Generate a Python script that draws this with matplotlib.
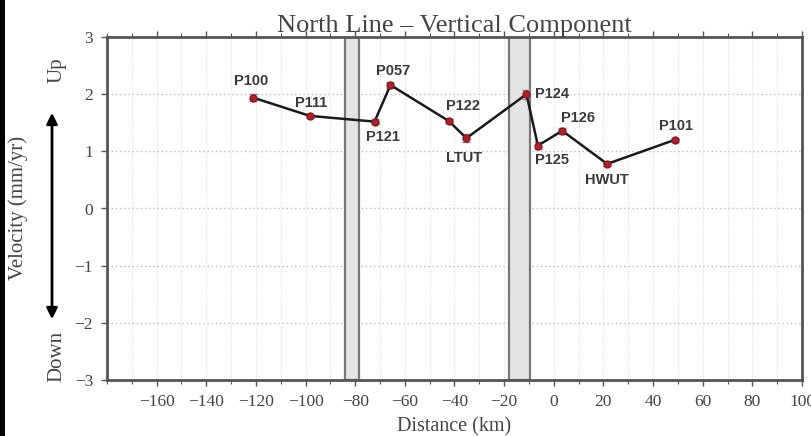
import matplotlib
matplotlib.use("Agg")
import matplotlib.pyplot as plt
from matplotlib.patches import Rectangle, FancyArrowPatch

# Station positions along the profile and vertical velocities
stations = ["P100", "P111", "P121", "P057", "P122", "LTUT", "P124",
            "P125", "P126", "HWUT", "P101"]
distance_km = [-121.2, -98.3, -72.2, -65.8, -42.3, -35.2, -11.0,
               -6.4, 3.4, 21.5, 48.7]
velocity = [1.94, 1.62, 1.52, 2.16, 1.53, 1.23, 2.00, 1.10, 1.36, 0.78, 1.20]
velocity_err = [0.06, 0.04, 0.04, 0.05, 0.04, 0.07, 0.08, 0.06, 0.05, 0.04, 0.04]

# Fault zones shaded along the profile
zones = [(-84.3, -78.3), (-17.9, -9.4)]

x_ticks = [-160, -140, -120, -100, -80, -60, -40, -20, 0, 20, 40, 60, 80, 100]
y_ticks = [-3, -2, -1, 0, 1, 2, 3]

# Label placement relative to each station (offset in points)
label_offsets = {
    "P100": (-1, 12), "P111": (1, 9), "P121": (6, -11), "P057": (2, 10),
    "P122": (10, 11), "LTUT": (-2, -14), "P124": (6, 0), "P125": (10, -10),
    "P126": (11, 9.5), "HWUT": (0, -11.5), "P101": (1, 10),
}
label_align = {"P124": "left"}

serif = "Liberation Serif"
sans = "Liberation Sans"
frame_col = "#555555"
text_col = "#444444"

fig = plt.figure(figsize=(8.11, 4.36), dpi=100)
ax = fig.add_axes([107 / 811, 1 - 380 / 436, (802 - 107) / 811, (380 - 37) / 436])

ax.set_xlim(-180, 100)
ax.set_ylim(-3, 3)

# Grid: faint verticals every 10 km, dotted horizontals at each integer
for xv in range(-170, 100, 10):
    ax.axvline(xv, color="#dddddd", lw=0.8, ls=(0, (1, 1.5)), zorder=0)
for yv in y_ticks[1:-1]:
    ax.axhline(yv, color="#bbbbbb", lw=1.0, ls=(0, (1, 2)), zorder=0)

for x0, x1 in zones:
    ax.add_patch(Rectangle((x0, -3), x1 - x0, 6, facecolor="#e4e4e4",
                           edgecolor="#777777", lw=1.6, zorder=1))

ax.errorbar(distance_km, velocity, yerr=velocity_err, fmt="none",
            ecolor="#888888", elinewidth=0.8, capsize=3, zorder=2)
ax.plot(distance_km, velocity, color="#1a1a1a", lw=1.8, zorder=3)
ax.plot(distance_km, velocity, ls="none", marker="o", ms=5,
        mfc="#b0202a", mec="#8a1820", zorder=4)

for name, xv, yv in zip(stations, distance_km, velocity):
    dx, dy = label_offsets[name]
    ax.annotate(name, (xv, yv), xytext=(dx, dy), textcoords="offset points",
                ha=label_align.get(name, "center"), va="center",
                fontsize=10.5, fontweight="bold", family=sans, color="#3a3a3a",
                zorder=5)

ax.set_xticks(x_ticks)
ax.set_xticks(range(-180, 101, 10), minor=True)
ax.set_yticks(y_ticks)
ax.set_xticklabels([f"\u2212{abs(v)}" if v < 0 else str(v) for v in x_ticks],
                   family=serif, fontsize=12.5, color=text_col)
ax.set_yticklabels([f"\u2212{abs(v)}" if v < 0 else str(v) for v in y_ticks],
                   family=serif, fontsize=12.5, color=text_col)
ax.tick_params(axis="both", which="major", direction="out", length=4,
               width=1, color=frame_col, pad=6)
ax.tick_params(axis="x", which="both", top=True)
ax.tick_params(axis="x", which="minor", direction="out", length=3,
               width=0.8, color=frame_col)

for side in ax.spines.values():
    side.set_color(frame_col)
    side.set_linewidth(2)

ax.set_title("North Line \u2013 Vertical Component", family=serif,
             fontsize=19, color=text_col, pad=1)
ax.set_xlabel("Distance (km)", family=serif, fontsize=14.5, color=text_col,
              labelpad=5)

# Y-axis description with direction arrow
fig.text(18 / 811, 1 - 208 / 436, "Velocity (mm/yr)", rotation=90,
         family=serif, fontsize=15, color=text_col, ha="center", va="center")
fig.text(57 / 811, 1 - 70 / 436, "Up", rotation=90, family=serif,
         fontsize=15, color=text_col, ha="center", va="center")
fig.text(57 / 811, 1 - 356 / 436, "Down", rotation=90, family=serif,
         fontsize=15, color=text_col, ha="center", va="center")
fig.patches.append(FancyArrowPatch((52 / 811, 1 - 322 / 436),
                                   (52 / 811, 1 - 110 / 436),
                                   transform=fig.transFigure,
                                   arrowstyle="<|-|>", mutation_scale=16,
                                   color="black", lw=2))

# Dark strip along the left edge
fig.patches.append(Rectangle((0, 0), 5 / 811, 1, transform=fig.transFigure,
                             facecolor="black", edgecolor="none"))

fig.savefig("out.png", dpi=100)
